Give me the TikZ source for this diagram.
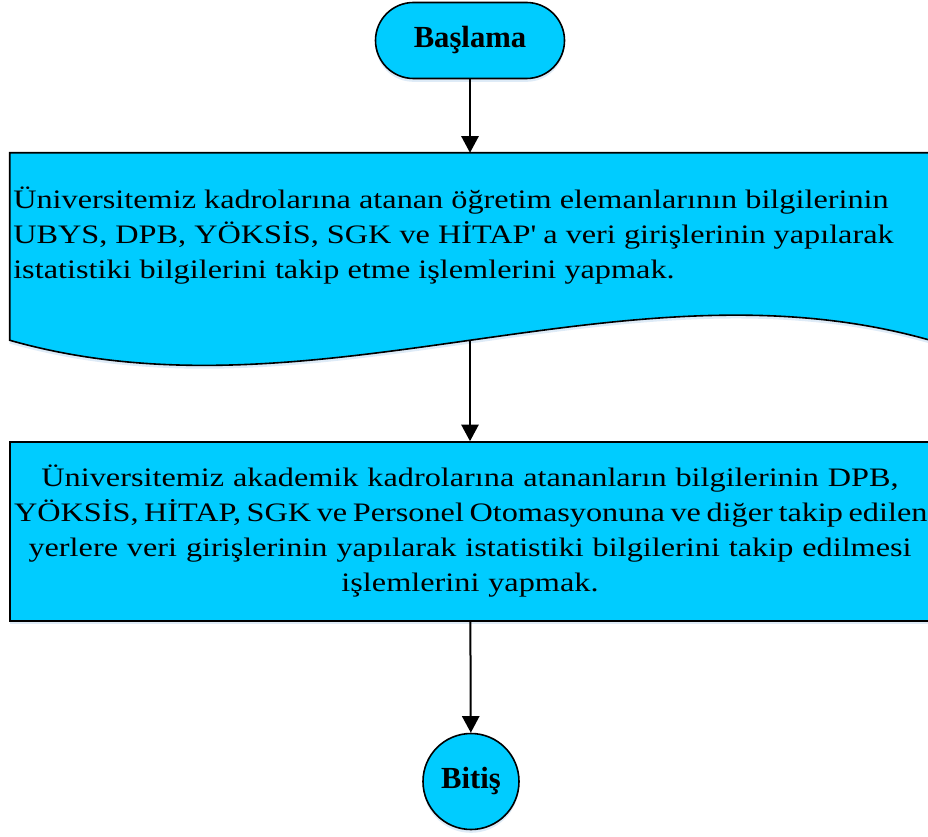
\documentclass[tikz,border=0pt]{standalone}
\usepackage{fontspec}
\setmainfont{Liberation Serif}[FakeStretch=1.21]
\newfontfamily\labelfont{Liberation Serif}
\usepackage{tikz}
\usetikzlibrary{arrows.meta, shapes.geometric, shadows}

\definecolor{flowcyan}{RGB}{0,204,255}
\definecolor{shadowblue}{RGB}{190,215,240}

\tikzset{
  shade/.style={drop shadow={shadow xshift=0pt, shadow yshift=-2.5pt, opacity=0.5, fill=shadowblue}},
  outline/.style={draw=black, line width=1.2pt, fill=flowcyan, shade},
  term/.style={outline, rectangle, rounded corners=28.5pt, minimum width=141.75pt, minimum height=57pt,
    font=\labelfont\fontsize{23}{27}\selectfont\bfseries},
  endc/.style={outline, circle, minimum size=72pt, inner sep=0pt,
    font=\labelfont\fontsize{23}{27}\selectfont\bfseries},
  docbox/.style={rectangle, minimum width=690pt, minimum height=140.25pt, inner sep=0pt},
  docshape/.style={outline},
  boxtext/.style={font=\fontsize{20}{26.25}\selectfont, inner sep=0pt},
  procbox/.style={outline, rectangle, text width=684pt, minimum height=134.25pt, align=center,
    inner xsep=3pt, inner ysep=0pt, font=\fontsize{20}{26.25}\selectfont},
  flow/.style={line width=1.5pt, -{Triangle[length=12.5pt, width=13pt]}}
}

\begin{document}
\begin{tikzpicture}[x=0.75pt, y=-0.75pt]

\useasboundingbox (0,0) rectangle (928,837);

% shapes
\node[term] (start) at (470,40.5) {Başlama};

\node[docbox] (doc) at (470,246.5) {};
\draw[docshape] (doc.north west) -- (doc.north east) -- (doc.south east)
  .. controls +(-306,-87) and +(306,87) .. (doc.south west) -- cycle;
\node[boxtext, align=left, anchor=west] (doc-text) at (13,236) {%
Üniversitemiz kadrolarına atanan öğretim elemanlarının bilgilerinin\\
UBYS, DPB, YÖKSİS, SGK ve HİTAP\textquotesingle{} a veri girişlerinin yapılarak\\
istatistiki bilgilerini takip etme işlemlerini yapmak.};
\coordinate (doc-out) at (doc.south);

% the second line runs past the right edge, as in the original
\node[procbox] (proc) at (470,531.5) {%
Üniversitemiz akademik kadrolarına atananların bilgilerinin DPB,\\
\makebox[684pt][l]{\spaceskip=4.2pt\relax YÖKSİS, HİTAP, SGK ve Personel Otomasyonuna ve diğer takip edilen}\\
yerlere veri girişlerinin yapılarak istatistiki bilgilerini takip edilmesi\\
işlemlerini yapmak.};

\node[endc] (end) at (471,781.5) {Bitiş};

% connectors
\draw[flow] (start) -- (doc.north);
\draw[flow] (doc-out) -- (proc);
\draw[flow] (proc) -- (end);

\end{tikzpicture}
\end{document}
